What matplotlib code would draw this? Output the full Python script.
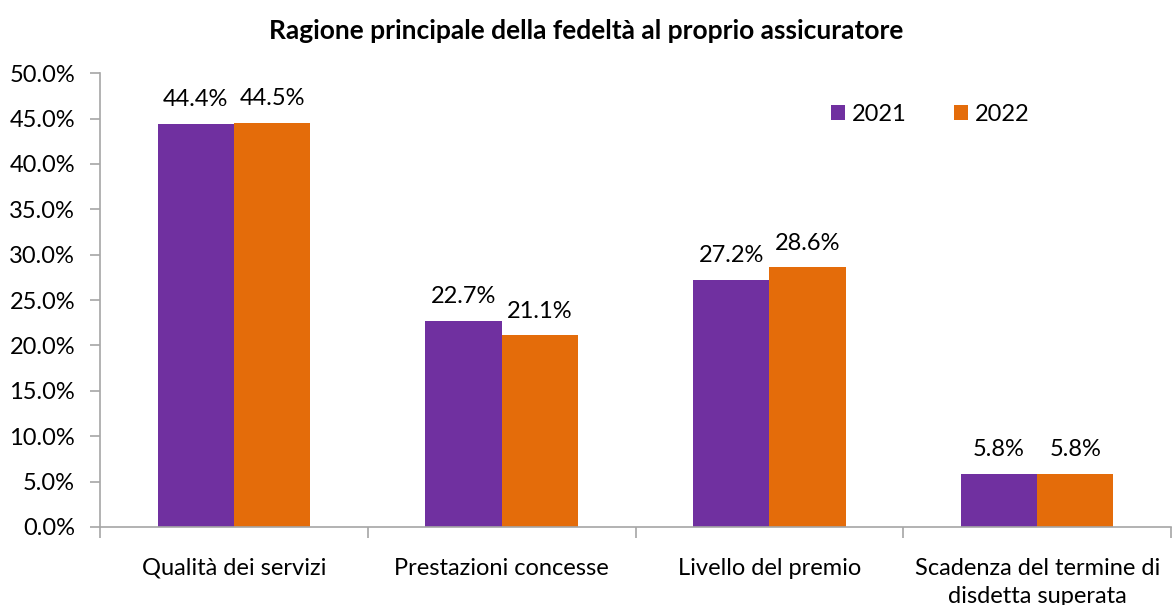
import matplotlib.pyplot as plt
import numpy as np
from matplotlib.ticker import FixedLocator, NullFormatter, FuncFormatter

categories = ["Qualità dei servizi", "Prestazioni concesse", "Livello del premio",
              "Scadenza del termine di\ndisdetta superata"]
years = ["2021", "2022"]
values_2021 = [44.4, 22.7, 27.2, 5.8]
values_2022 = [44.5, 21.1, 28.6, 5.8]

purple = "#7030a0"
orange = "#e46c0a"
axis_grey = "#a6a6a6"

plt.rcParams["font.family"] = ["Lato", "DejaVu Sans"]

fig = plt.figure(figsize=(11.73, 6.05), dpi=100)
ax = fig.add_axes([0.0853, 0.129, 0.9130, 0.750])

x = np.arange(len(categories))
width = 0.285
bars1 = ax.bar(x - width / 2, values_2021, width, color=purple, label=years[0])
bars2 = ax.bar(x + width / 2, values_2022, width, color=orange, label=years[1])

for bars in (bars1, bars2):
	for b in bars:
		ax.annotate(f"{b.get_height():.1f}%", (b.get_x() + b.get_width() / 2, b.get_height()),
		            xytext=(0, 10), textcoords="offset points", ha="center", va="bottom",
		            fontsize=17)

ax.set_xlim(-0.5, len(categories) - 0.5)
ax.set_ylim(0, 50)
ax.set_yticks(np.arange(0, 50.1, 5))
ax.yaxis.set_major_formatter(FuncFormatter(lambda v, p: f"{v:.1f}%"))

# category labels centred, ticks on the boundaries
ax.xaxis.set_major_locator(FixedLocator(np.arange(-0.5, len(categories), 1)))
ax.xaxis.set_major_formatter(NullFormatter())
ax.xaxis.set_minor_locator(FixedLocator(x))
ax.set_xticklabels(categories, minor=True, linespacing=1.45)
ax.tick_params(axis="x", which="minor", length=0, pad=22, labelsize=17)
ax.tick_params(axis="x", which="major", length=8, width=1.2, color=axis_grey)
ax.tick_params(axis="y", length=7, width=1.2, color=axis_grey, labelsize=17, pad=11)

for side in ("top", "right"):
	ax.spines[side].set_visible(False)
for side in ("left", "bottom"):
	ax.spines[side].set_color(axis_grey)
	ax.spines[side].set_linewidth(1.2)

ax.legend(loc="center right", bbox_to_anchor=(0.868, 0.91), ncol=2, frameon=False,
          fontsize=17, handlelength=0.6, handleheight=0.6, handletextpad=0.3,
          columnspacing=2.0, borderaxespad=0, borderpad=0)

fig.text(0.5, 0.949, "Ragione principale della fedeltà al proprio assicuratore",
         fontsize=19, fontweight="bold", ha="center", va="center")

fig.savefig("out.png", dpi=100)
